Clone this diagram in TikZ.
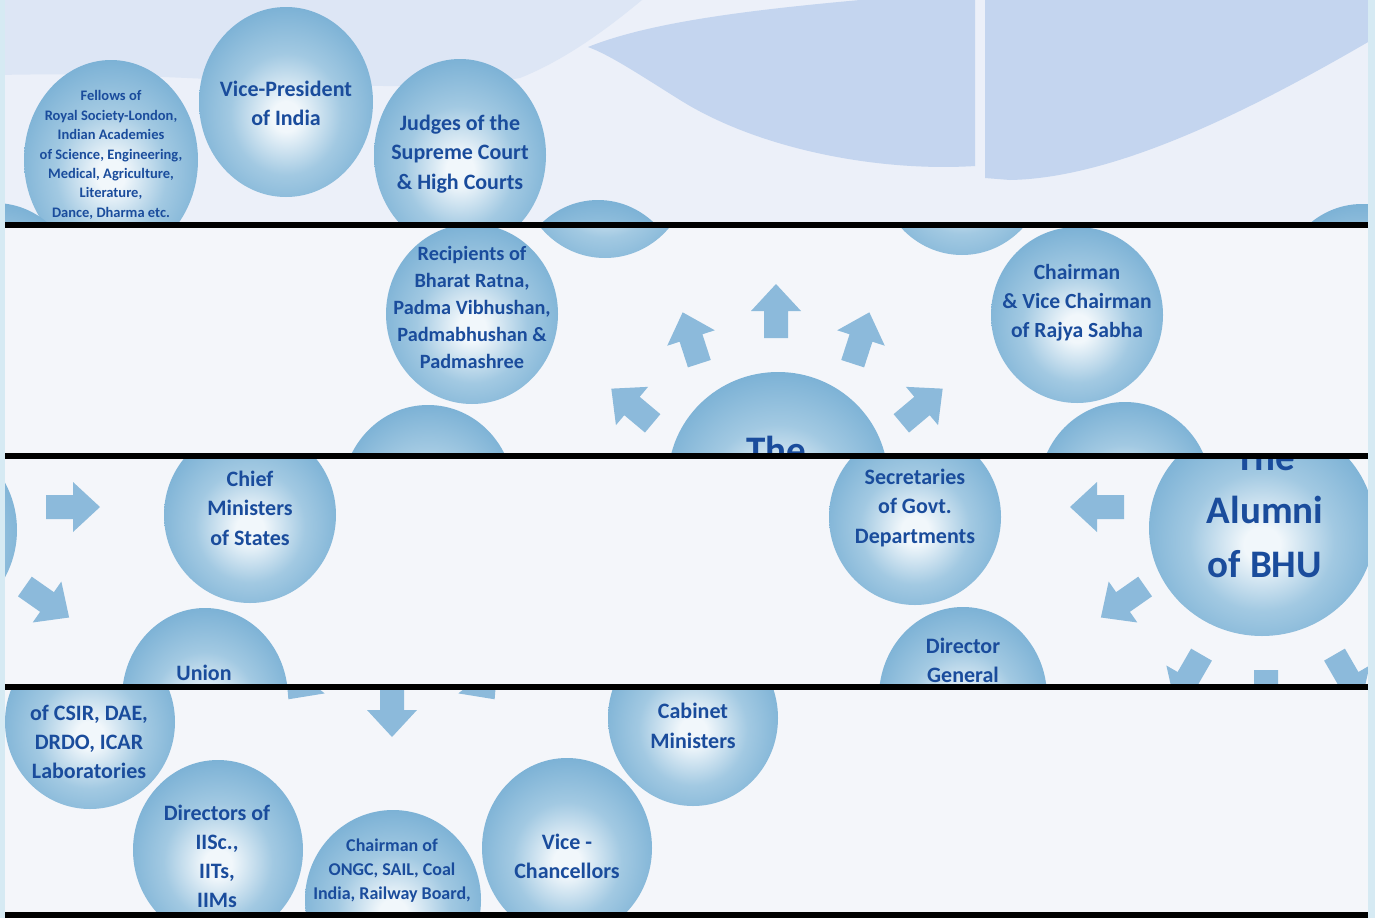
\documentclass[tikz,border=0pt]{standalone}
\usepackage{fontspec}
\setmainfont{Carlito}
\usetikzlibrary{shapes.geometric}
\definecolor{bube}{HTML}{5E9DC7}
\definecolor{bubo}{HTML}{7BB1D5}
\definecolor{bubm}{HTML}{A2C9E2}
\definecolor{bubc}{HTML}{F1F7FB}
\definecolor{txtblue}{HTML}{1A4C9C}
\definecolor{arrowcol}{HTML}{8CBADB}
\definecolor{paper}{HTML}{F4F6FA}
\definecolor{paperA}{HTML}{ECF0F9}
\definecolor{lav}{HTML}{C4D5EF}
\definecolor{lavlight}{HTML}{DDE6F5}
\definecolor{marginblue}{HTML}{D6EAF3}
\pgfdeclareradialshading{bubshade}{\pgfpoint{0bp}{-4bp}}{color(0bp)=(bubc); color(4bp)=(bubc); color(16bp)=(bubm); color(28bp)=(bubo); color(43bp)=(bube); color(54bp)=(bube); color(80bp)=(bube)}
\tikzset{
  bubble/.style={ellipse, shade, shading=bubshade, inner sep=0pt, minimum width=172pt, minimum height=180pt},
  lbl/.style={text=txtblue, align=center, inner sep=0pt},
  fs/.style 2 args={font=\fontsize{#1}{#2}\selectfont\bfseries},
  bararrow/.pic={\fill[arrowcol] (-27,-12) -- (0,-12) -- (0,-25) -- (27,0) -- (0,25) -- (0,12) -- (-27,12) -- cycle;},
  sepbar/.style={fill=black},
}
\begin{document}
\begin{tikzpicture}[x=1pt,y=-1pt]
\useasboundingbox (0,0) rectangle (1375,918);
% ---------- strip 1 ----------
\begin{scope}
\clip (0,0) rectangle (1375,222);
\fill[paperA] (0,0) rectangle (1375,222);
\fill[lavlight] (0,0) -- (642,0) .. controls (600,35) and (560,62) .. (520,78) .. controls (400,100) and (200,70) .. (0,75) -- cycle;
\fill[lav] (588,47) .. controls (650,22) and (750,10) .. (860,0) -- (975,0) -- (975,166) .. controls (880,172) and (760,150) .. (680,100) .. controls (640,75) and (610,55) .. (588,47) -- cycle;
\fill[lav] (985,0) -- (1375,0) -- (1375,38) .. controls (1260,105) and (1120,178) .. (1010,180) -- (985,178) -- cycle;
\node[bubble, minimum width=174pt, minimum height=200pt] (fel) at (111,160) {};
\node[bubble, minimum width=174pt, minimum height=190pt] (vp) at (286,102) {};
\node[bubble, minimum width=172pt, minimum height=192pt] (jud) at (460,155) {};
\node[bubble, minimum width=170pt, minimum height=184pt] (b1a) at (-5,295) {};
\node[bubble, minimum width=170pt, minimum height=184pt] (b1b) at (598,292) {};
\node[bubble, minimum width=170pt, minimum height=184pt] (b1c) at (1362,296) {};
\node[lbl, fs={14.5}{19.4}] (tfel) at (111,155) {Fellows of\\Royal Society-London,\\Indian Academies\\of Science, Engineering,\\Medical, Agriculture,\\Literature,\\Dance, Dharma etc.};
\node[lbl, fs={22}{29}] (tvp) at (286,103) {Vice-President\\of India};
\node[lbl, fs={22}{29.5}] (tjud) at (460,154) {Judges of the\\Supreme Court\\\& High Courts};
\end{scope}
% ---------- strip 2 ----------
\begin{scope}
\clip (0,228) rectangle (1375,453);
\fill[paper] (0,228) rectangle (1375,453);
\node[bubble, minimum width=170pt, minimum height=176pt] (b2a) at (605,170) {};
\node[bubble, minimum width=170pt, minimum height=180pt] (b2b) at (962,165) {};
\node[bubble, minimum width=172pt, minimum height=180pt] (rec) at (472,314) {};
\node[bubble, minimum width=172pt, minimum height=180pt] (b2c) at (428,495) {};
\node[bubble, minimum width=172pt, minimum height=176pt] (rs) at (1077,315) {};
\node[bubble, minimum width=172pt, minimum height=176pt] (b2d) at (1125,490) {};
\node[bubble, minimum width=220pt, minimum height=216pt] (the) at (778,480) {};
\node[lbl, fs={20.3}{27}] (trec) at (472,307) {Recipients of\\Bharat Ratna,\\Padma Vibhushan,\\Padmabhushan \&\\Padmashree};
\node[lbl, fs={21.6}{29}] (trs) at (1077,303) {Chairman\\\& Vice Chairman\\of Rajya Sabha};
\node[lbl, fs={39}{53.5}, anchor=base] (tthe) at (776,463) {The};
\pic[rotate=90] at (776,311) {bararrow};
\pic[rotate=108] at (691,338) {bararrow};
\pic[rotate=72] at (861,338) {bararrow};
\pic[rotate=140] at (632,406) {bararrow};
\pic[rotate=40] at (922,406) {bararrow};
\end{scope}
% ---------- strip 3 ----------
\begin{scope}
\clip (0,459) rectangle (1375,684);
\fill[paper] (0,459) rectangle (1375,684);
\node[bubble, minimum width=224pt, minimum height=210pt] (b3a) at (-95,530) {};
\node[bubble, minimum width=172pt, minimum height=176pt] (cm) at (250,515) {};
\node[bubble, minimum width=166pt, minimum height=180pt] (un) at (205,698) {};
\node[bubble, minimum width=172pt, minimum height=176pt] (sec) at (915,517) {};
\node[bubble, minimum width=168pt, minimum height=180pt] (dg) at (963,697) {};
\node[bubble, minimum width=226pt, minimum height=216pt] (alu) at (1262,528) {};
\node[lbl, fs={22}{29.5}] (tcm) at (250,508) {Chief\\Ministers\\of States};
\node[lbl, fs={22}{29.5}] (tsec) at (915,508) {Secretaries\\of Govt.\\Departments};
\node[lbl, fs={22}{29}, anchor=base] (tdg) at (963,682) {Director\\General};
\node[lbl, fs={22}{29}, anchor=base] (tun) at (204,680) {Union};
\node[lbl, fs={39}{53.5}] (talu) at (1265,510) {The\\Alumni\\of BHU};
\pic[rotate=180] at (1097,507) {bararrow};
\pic[rotate=215] at (1123,602) {bararrow};
\pic[rotate=240] at (1188,678) {bararrow};
\pic[rotate=270] at (1266,697) {bararrow};
\pic[rotate=300] at (1348,678) {bararrow};
\pic[rotate=0] at (73,507) {bararrow};
\pic[rotate=325] at (47,602) {bararrow};
\end{scope}
% ---------- strip 4 ----------
\begin{scope}
\clip (0,690) rectangle (1375,912);
\fill[paper] (0,690) rectangle (1375,912);
\node[bubble, minimum width=170pt, minimum height=174pt] (csir) at (90,722) {};
\node[bubble, minimum width=170pt, minimum height=180pt] (dir) at (218,850) {};
\node[bubble, minimum width=176pt, minimum height=180pt] (ongc) at (393,900) {};
\node[bubble, minimum width=170pt, minimum height=180pt] (vc) at (567,848) {};
\node[bubble, minimum width=170pt, minimum height=176pt] (cab) at (693,718) {};
\node[lbl, fs={22}{29}] (tcsir) at (89,742) {of CSIR, DAE,\\DRDO, ICAR\\Laboratories};
\node[lbl, fs={22}{29}] (tdir) at (217,856) {Directors of\\IISc.,\\IITs,\\IIMs};
\node[lbl, fs={18}{24}] (tongc) at (392,871) {Chairman of\\ONGC, SAIL, Coal\\India, Railway Board,};
\node[lbl, fs={22}{29}] (tvc) at (567,856) {Vice -\\Chancellors};
\node[lbl, fs={22}{29.5}] (tcab) at (693,726) {Cabinet\\Ministers};
\pic[rotate=270] at (392,710) {bararrow};
\pic[rotate=232] at (305,678) {bararrow};
\pic[rotate=308] at (478,678) {bararrow};
\end{scope}
% ---------- separators and margins ----------
\fill[sepbar] (0,222) rectangle (1375,228);
\fill[sepbar] (0,453) rectangle (1375,459);
\fill[sepbar] (0,684) rectangle (1375,690);
\fill[sepbar] (0,912) rectangle (1375,918);
\fill[marginblue] (0,0) rectangle (5,918);
\fill[marginblue] (1368,0) rectangle (1375,918);
\end{tikzpicture}
\end{document}
